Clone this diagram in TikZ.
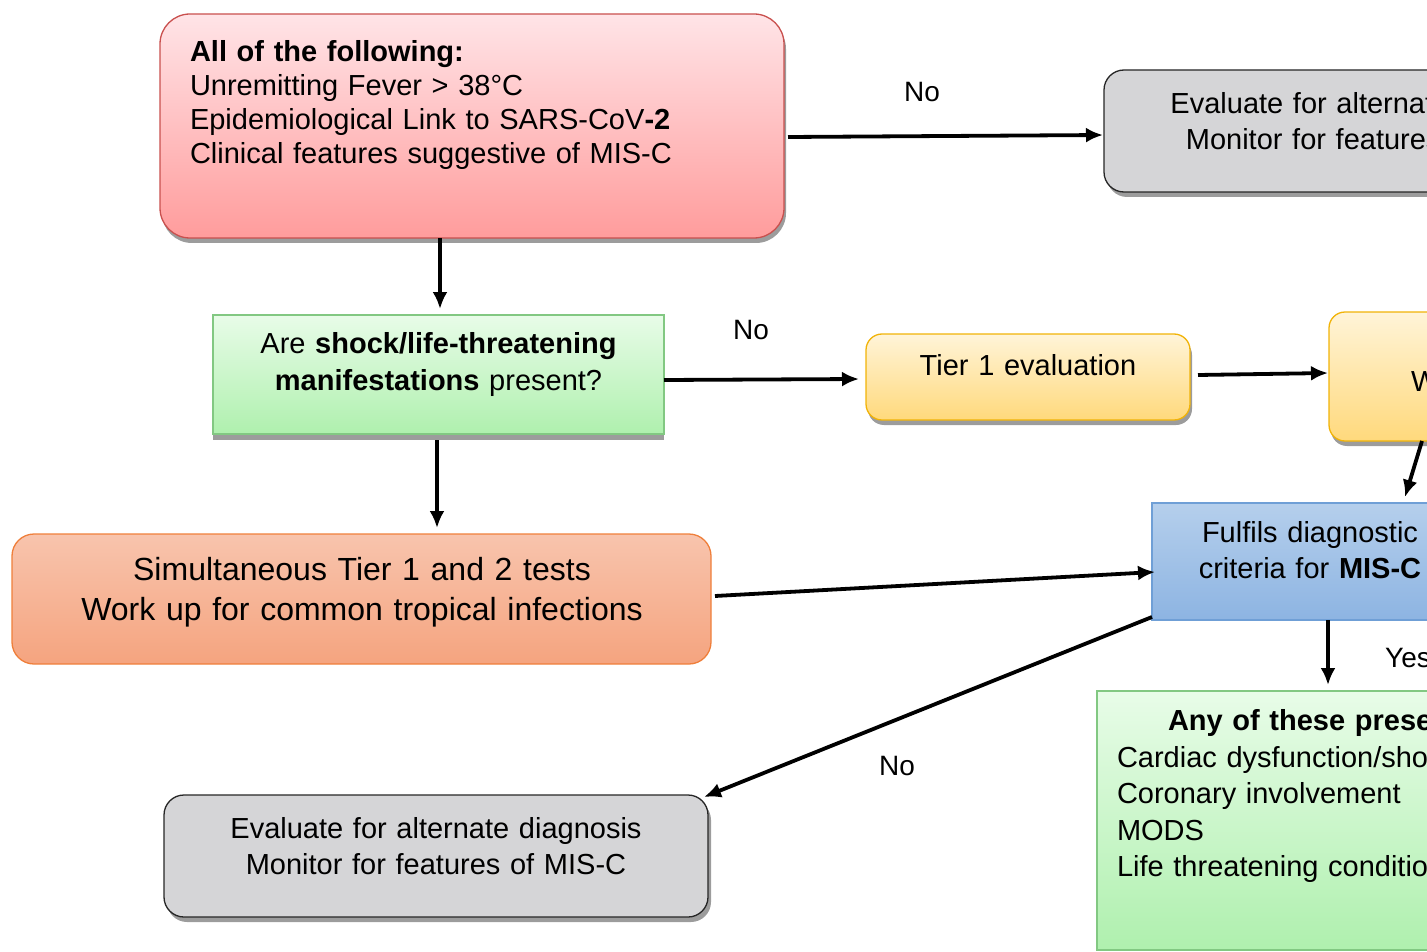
\documentclass[tikz,border=0pt]{standalone}
\usepackage{fontspec}
\setmainfont{Liberation Sans}
\usetikzlibrary{arrows.meta,shadows,calc}
\definecolor{redtop}{HTML}{FFE4E7}
\definecolor{redbot}{HTML}{FF9C9C}
\definecolor{redline}{HTML}{C9504E}
\definecolor{greyfill}{HTML}{D5D5D7}
\definecolor{greytop}{HTML}{E8FCE8}
\definecolor{greenbot}{HTML}{AFF0AE}
\definecolor{greenline}{HTML}{82C882}
\definecolor{orangetop}{HTML}{F8C4AD}
\definecolor{orangebot}{HTML}{F5A47F}
\definecolor{orangeline}{HTML}{EF7F3B}
\definecolor{yeltop}{HTML}{FFF4D8}
\definecolor{yelbot}{HTML}{FFD97C}
\definecolor{yelline}{HTML}{F1B308}
\definecolor{bluetop}{HTML}{B5CFEC}
\definecolor{bluebot}{HTML}{8DB4E2}
\definecolor{blueline}{HTML}{6F9FD6}
\definecolor{shadowgrey}{HTML}{9C9C9C}
\begin{document}
\begin{tikzpicture}[x=1pt,y=-1pt,
  shape box/.style={rectangle, inner sep=0pt, outer sep=0pt, line width=1.3pt},
  redbox/.style={shape box, draw=redline, top color=redtop, bottom color=redbot, rounded corners=30pt,
    drop shadow={shadow xshift=2pt, shadow yshift=-5pt, fill=shadowgrey, opacity=1}},
  greybox/.style={shape box, draw=black!85, fill=greyfill, rounded corners=20pt,
    drop shadow={shadow xshift=3pt, shadow yshift=-5pt, fill=shadowgrey, opacity=1}},
  greenbox/.style={shape box, draw=greenline, top color=greytop, bottom color=greenbot,
    drop shadow={shadow xshift=0pt, shadow yshift=-6pt, fill=shadowgrey, opacity=1}},
  listbox/.style={shape box, draw=greenline, top color=greytop, bottom color=greenbot},
  orangebox/.style={shape box, draw=orangeline, top color=orangetop, bottom color=orangebot, rounded corners=22pt},
  yellowbox/.style={shape box, draw=yelline, top color=yeltop, bottom color=yelbot, rounded corners=16pt,
    drop shadow={shadow xshift=2pt, shadow yshift=-5pt, fill=shadowgrey, opacity=1}},
  bluebox/.style={shape box, draw=blueline, top color=bluetop, bottom color=bluebot},
  txt/.style={inner sep=0pt, outer sep=0pt, text=black},
  lbl/.style={inner sep=0pt, font=\fontsize{28}{34}\selectfont},
  conn/.style={line width=3.8pt, -{Latex[length=17pt,width=15pt]}}
]
\useasboundingbox (0,0) rectangle (1427,952);
\clip (0,0) rectangle (1427,952);

% boxes
\node[redbox, minimum width=624pt, minimum height=224pt] (red) at (472,126) {};
\node[greybox, minimum width=544pt, minimum height=122pt] (grey1) at (1376,131) {};
\node[greenbox, minimum width=451pt, minimum height=119pt] (green1) at (438.5,374.5) {};
\node[orangebox, minimum width=699pt, minimum height=130pt] (orange) at (361.5,599) {};
\node[yellowbox, minimum width=324pt, minimum height=86pt] (tier1) at (1028,377) {};
\node[yellowbox, minimum width=340pt, minimum height=129pt] (yel2) at (1499,376.5) {};
\node[bluebox, minimum width=316pt, minimum height=117pt] (blue) at (1310,561.5) {};
\node[listbox, minimum width=420pt, minimum height=259pt] (green2) at (1307,820.5) {};
\node[greybox, minimum width=544pt, minimum height=122pt] (grey2) at (436,856) {};

% texts
\node[txt, anchor=base west, text width=580pt, align=left, font=\fontsize{29}{34}\selectfont] (redtxt) at (190,62)
  {\textbf{All of the following:}\\Unremitting Fever > 38°C\\Epidemiological Link to SARS-CoV\textbf{-2}\\Clinical features suggestive of MIS-C};
\node[txt, anchor=base, text width=520pt, align=center, font=\fontsize{29}{36}\selectfont] (grey1txt) at (1376,113.5)
  {Evaluate for alternate diagnosis\\Monitor for features of MIS-C};
\node[txt, anchor=base, text width=440pt, align=center, font=\fontsize{29}{37}\selectfont] (green1txt) at (438.5,353.5)
  {Are \textbf{shock/life-threatening}\\\textbf{manifestations} present?};
\node[txt, anchor=base, text width=680pt, align=center, font=\fontsize{32}{40}\selectfont] (orangetxt) at (362,580.5)
  {Simultaneous Tier 1 and 2 tests\\Work up for common tropical infections};
\node[txt, anchor=base, text width=320pt, align=center, font=\fontsize{29}{34}\selectfont] (tier1txt) at (1028,375.5)
  {Tier 1 evaluation};
\node[txt, anchor=base west, font=\fontsize{29}{34}\selectfont] (yel2txt) at (1411,391.5)
  {Worsening};
\node[txt, anchor=base, text width=310pt, align=center, font=\fontsize{29}{36}\selectfont] (bluetxt) at (1310,542.5)
  {Fulfils diagnostic\\criteria for \textbf{MIS-C}};
\node[txt, anchor=base west, text width=400pt, align=left, font=\fontsize{29}{36.5}\selectfont] (green2txt) at (1117,730.5)
  {\hspace*{51pt}\textbf{Any of these present?}\\Cardiac dysfunction/shock\\Coronary involvement\\MODS\\Life threatening conditions};
\node[txt, anchor=base, text width=520pt, align=center, font=\fontsize{29}{36}\selectfont] (grey2txt) at (436,838.5)
  {Evaluate for alternate diagnosis\\Monitor for features of MIS-C};

% labels
\node[lbl] (no1) at (922,92) {No};
\node[lbl] (no2) at (751,330) {No};
\node[lbl] (no3) at (897,766) {No};
\node[lbl, anchor=base west] (yes) at (1385,667) {Yes};

% connectors
\draw[conn] ([shift={(-32,0)}]red.south) -- ([shift={(1.5,-6)}]green1.north);
\draw[conn] ([shift={(-1.5,6)}]green1.south) -- ([shift={(75.5,-6)}]orange.north);
\draw[conn] ([shift={(0,5.5)}]green1.east) -- ([shift={(-7,2)}]tier1.west);
\draw[conn] ([shift={(4,11)}]red.east) -- ([shift={(-1,4)}]grey1.west);
\draw[conn] ([shift={(8,-2)}]tier1.east) -- ([shift={(-1,-3.5)}]yel2.west);
\draw[conn] ([shift={(93,0)}]yel2.south west) -- ([shift={(253,-6)}]blue.north west);
\draw[conn] ([shift={(4,-3)}]orange.east) -- ([shift={(3,10.5)}]blue.west);
\draw[conn] ([shift={(0,-3)}]blue.south west) -- ([shift={(-4,2)}]grey2.north east);
\draw[conn] ([shift={(18,0)}]blue.south) -- ([shift={(231,-6)}]green2.north west);
\end{tikzpicture}
\end{document}
